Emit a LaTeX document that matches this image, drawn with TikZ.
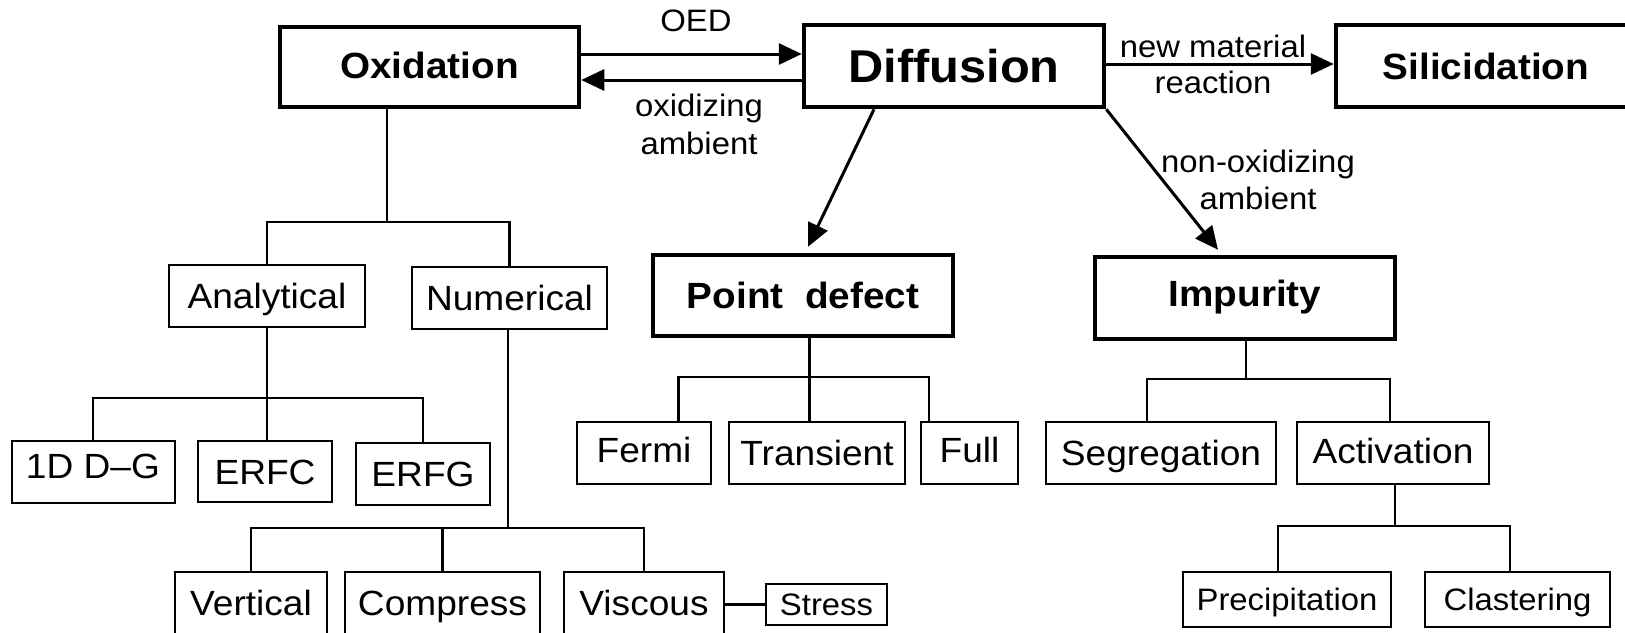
\documentclass[tikz,border=0pt]{standalone}
\usepackage{fontspec}
\setmainfont{Liberation Sans}[FakeStretch=1.06]
\usepackage{tikz}
\usetikzlibrary{
  arrows.meta
}

\tikzset{
	topbox/.style={draw, line width=4.5pt, inner sep=0pt, text height=26pt, text depth=0pt,
		font=\bfseries\fontsize{36.5}{40}\selectfont},
	subbox/.style={draw, line width=2pt, inner sep=0pt, text height=25pt, text depth=0pt,
		font=\fontsize{35}{38}\selectfont},
	leafbox/.style={subbox, text height=22pt, font=\fontsize{31}{34}\selectfont},
	branch/.style={line width=2.8pt},
	flow/.style={line width=3pt, -{Triangle[length=23pt,width=21pt]}},
	note/.style={align=center, font=\fontsize{31}{37}\selectfont}
}

\begin{document}
\begin{tikzpicture}[x=1pt, y=-1pt]

	    \clip (0,0) rectangle (1625,632);

	    % main boxes
	    \node[topbox, minimum width=299pt, minimum height=80pt, text depth=4pt] (ox) at (429.5,67) {Oxidation};
	    \node[topbox, minimum width=300pt, minimum height=82pt, text height=33pt,
	        font=\bfseries\fontsize{46}{50}\selectfont] (dif) at (954,66) {Diffusion};
	    \node[topbox, minimum width=300pt, minimum height=82pt] (sil) at (1486,66) {Silicidation};
	    \node[topbox, minimum width=300pt, minimum height=81pt] (pd) at (803,295.5) {Point\ \ defect};
	    \node[topbox, minimum width=300pt, minimum height=82pt, text depth=10pt] (imp) at (1245,298) {Impurity};

	    % oxidation models
	    \node[subbox, minimum width=196pt, minimum height=62pt] (ana) at (267,296) {Analytical};
	    \node[subbox, minimum width=195pt, minimum height=62pt] (num) at (509.5,298) {Numerical};
	    \node[subbox, minimum width=163pt, minimum height=62pt, text depth=12pt] (dg) at (93,472) {1D D–G};
	    \node[subbox, minimum width=134pt, minimum height=61pt] (erfc) at (265,471.5) {ERFC};
	    \node[subbox, minimum width=134pt, minimum height=62pt] (erfg) at (423,474) {ERFG};
	    \node[subbox, minimum width=152pt, minimum height=62pt] (vert) at (251,603) {Vertical};
	    \node[subbox, minimum width=195pt, minimum height=62pt] (comp) at (442.5,603) {Compress};
	    \node[subbox, minimum width=160pt, minimum height=62pt] (visc) at (644,603) {Viscous};
	    \node[leafbox, minimum width=121pt, minimum height=41pt] (stress) at (826.5,604.5) {Stress};

	    % point defect models
	    \node[subbox, minimum width=134pt, minimum height=62pt, text depth=6pt] (fermi) at (644,453) {Fermi};
	    \node[subbox, minimum width=176.5pt, minimum height=62pt] (trans) at (817,453) {Transient};
	    \node[subbox, minimum width=97pt, minimum height=62pt, text depth=6pt] (full) at (969.5,453) {Full};

	    % impurity models
	    \node[subbox, minimum width=230pt, minimum height=62pt] (seg) at (1161,453) {Segregation};
	    \node[subbox, minimum width=192.5pt, minimum height=62pt, text depth=5pt] (act) at (1393,453) {Activation};
	    \node[leafbox, minimum width=208pt, minimum height=55pt] (prec) at (1287,599.5) {Precipitation};
	    \node[leafbox, minimum width=185pt, minimum height=55pt] (clas) at (1517.5,599.5) {Clastering};

	    % branch points
	    \coordinate (oxs) at (387,222);
	    \coordinate (anas) at (267,398);
	    \coordinate (nums) at (508,528);
	    \coordinate (pds) at (809.5,377);
	    \coordinate (imps) at (1246,379);
	    \coordinate (acts) at (1395,526);

	    % trees
	    \draw[branch]
	        (ox.south -| oxs) -- (oxs)
	        (ana.north) |- (oxs) -| (num.north);
	    \draw[branch]
	        (ana.south) -- (erfc.north -| anas)
	        (dg.north) |- (anas) -| (erfg.north);
	    \draw[branch]
	        (num.south -| nums) -- (nums)
	        (vert.north) |- (nums) -| (visc.north)
	        (comp.north) -- (comp.north |- nums);
	    \draw[branch] (visc.east |- stress.west) -- (stress.west);
	    \draw[branch]
	        (pd.south -| pds) -- (pds)
	        ([xshift=34.5pt]fermi.north) |- (pds) -| ([xshift=-40.5pt]full.north)
	        (trans.north -| pds) -- (pds);
	    \draw[branch]
	        (imp.south -| imps) -- (imps)
	        ([xshift=-14pt]seg.north) |- (imps) -| ([xshift=-3pt]act.north);
	    \draw[branch]
	        (act.south -| acts) -- (acts)
	        ([xshift=-9pt]prec.north) |- (acts) -| ([xshift=-7.5pt]clas.north);

	    % arrows between main boxes
	    \draw[flow] ([yshift=13pt]ox.east) -- ([yshift=12pt]dif.west);
	    \draw[flow] ([yshift=-14pt]dif.west) -- ([yshift=-13pt]ox.east);
	    \draw[flow] ([yshift=2pt]dif.east) -- ([yshift=2pt]sil.west);
	    \draw[flow] ([xshift=-80pt]dif.south) -- ([xshift=5pt,yshift=6pt]pd.north);
	    \draw[flow] (dif.south east) -- ([xshift=-27pt,yshift=5pt]imp.north);

	    % arrow labels
	    \node[note] (oed) at (696,21) {OED};
	    \node[note, font=\fontsize{31}{38}\selectfont] (oxamb) at (699,124) {oxidizing\\ambient};
	    \node[note, font=\fontsize{31}{36}\selectfont] (newmat) at (1213,64) {new material\\reaction};
	    \node[note] (nonox) at (1258,180) {non-oxidizing\\ambient};

	\end{tikzpicture}
\end{document}
